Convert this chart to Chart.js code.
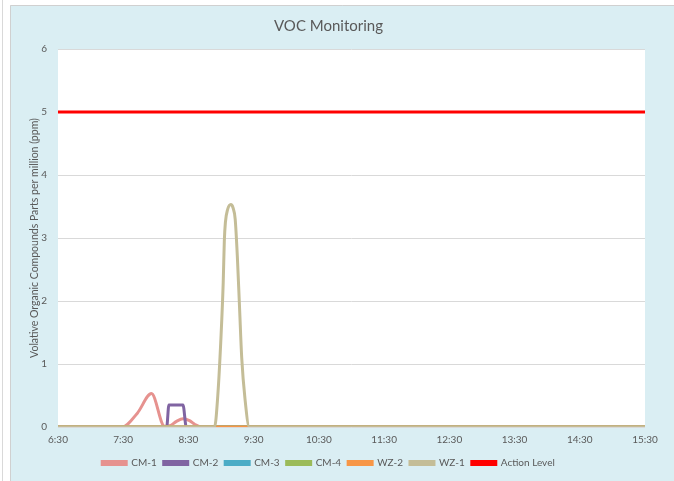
<!DOCTYPE html>
<html>
<head>
<meta charset="utf-8">
<script src="https://cdn.jsdelivr.net/npm/chart.js@4/dist/chart.umd.min.js"></script>
<style>
html,body{margin:0;padding:0;background:#fff;}
#wrap{width:674px;height:481px;}
</style>
</head>
<body>
<div id="wrap"><canvas id="c" width="674" height="481" style="width:674px;height:481px"></canvas></div>
<script>
// ---- Data (times as h:mm, values in ppm) ----
const xTickLabels = ['6:30','7:30','8:30','9:30','10:30','11:30','12:30','13:30','14:30','15:30'];
const seriesNames = ['CM-1','CM-2','CM-3','CM-4','WZ-2','WZ-1','Action Level'];

const cm1Times  = ['6:30','7:29','7:43','7:56','8:08','8:13','8:19','8:25','8:31','8:36','8:42','15:30'];
const cm1Values = [0, 0, 0.22, 0.53, 0.01, 0.02, 0.09, 0.13, 0.1, 0.04, 0, 0];

const cm2Times  = ['6:30','8:10','8:12','8:25','8:28','15:30'];
const cm2Values = [0, 0, 0.35, 0.35, 0, 0];

const cm3Times  = ['6:30','15:30'];
const cm3Values = [0, 0];

const cm4Times  = ['6:30','15:30'];
const cm4Values = [0, 0];

const wz2Times  = ['6:30','15:30'];
const wz2Values = [0, 0];

const wz1Times  = ['6:30','8:54','8:57','9:00','9:02','9:03','9:04','9:06','9:09','9:11','9:13','9:15','9:17','9:19','9:22','9:26','15:30'];
const wz1Values = [0, 0, 0.5, 1.45, 2.3, 2.95, 3.25, 3.45, 3.53, 3.48, 3.3, 2.7, 1.9, 1.1, 0.45, 0, 0];

const actionTimes  = ['6:30','15:30'];
const actionValues = [5, 5];

const yTicks = [0,1,2,3,4,5,6];

// ---- helpers ----
const START = 6*60+30;
function toMin(t){ const p=t.split(':'); return (+p[0])*60 + (+p[1]) - START; }
function fmt(m){ const tot=m+START; const h=Math.floor(tot/60); const mm=tot%60; return h+':'+String(mm).padStart(2,'0'); }
function pts(times, vals){ return times.map((t,i)=>({x:toMin(t), y:vals[i]})); }

const colors = ['#E6928F','#8064A2','#4BACC6','#9BBB59','#F79646','#C4BD97','#FF0000'];
const allTimes = [cm1Times,cm2Times,cm3Times,cm4Times,wz2Times,wz1Times,actionTimes];
const allVals = [cm1Values,cm2Values,cm3Values,cm4Values,wz2Values,wz1Values,actionValues];

const FONT = 'Lato, "Open Sans", sans-serif';

const datasets = seriesNames.map((n,i)=>({
  label: n,
  data: pts(allTimes[i], allVals[i]),
  borderColor: colors[i],
  backgroundColor: colors[i],
  borderWidth: 3,
  pointRadius: 0,
  cubicInterpolationMode: 'monotone',
  fill: false,
  order: seriesNames.length - i
}));

const bgPlugin = {
  id: 'bg',
  beforeDraw(chart){
    const ctx = chart.ctx;
    ctx.save();
    ctx.fillStyle = '#ffffff';
    ctx.fillRect(0,0,chart.width,chart.height);
    ctx.strokeStyle = '#d9d9d9';
    ctx.lineWidth = 1;
    ctx.beginPath(); ctx.moveTo(2.5,0); ctx.lineTo(2.5,chart.height); ctx.stroke();
    ctx.fillStyle = '#DAEEF3';
    ctx.fillRect(10,5,chart.width-10,chart.height-5);
    ctx.strokeStyle = '#d0d0d0';
    ctx.beginPath(); ctx.moveTo(10.5,chart.height); ctx.lineTo(10.5,5.5); ctx.lineTo(chart.width,5.5); ctx.stroke();
    const a = chart.chartArea;
    ctx.fillStyle = '#ffffff';
    ctx.fillRect(a.left, a.top, a.right-a.left, a.bottom-a.top);
    ctx.restore();
  }
};

new Chart(document.getElementById('c'), {
  type: 'line',
  data: { datasets },
  plugins: [bgPlugin],
  options: {
    responsive: false,
    devicePixelRatio: 1,
    animation: false,
    layout: { padding: { top: 6, left: 12, right: 29, bottom: 3 } },
    plugins: {
      tooltip: { enabled: false },
      title: {
        display: true, text: 'VOC Monitoring', color: '#595959',
        font: { family: FONT, size: 15, weight: 'normal' },
        padding: { top: 11, bottom: 14 }
      },
      legend: {
        position: 'bottom',
        labels: {
          color: '#595959', boxWidth: 24, boxHeight: 3, padding: 7,
          font: { family: FONT, size: 10 },
          sort: (a,b) => a.datasetIndex - b.datasetIndex
        }
      }
    },
    scales: {
      x: {
        type: 'linear', min: 0, max: 540,
        afterBuildTicks(scale){ scale.ticks = xTickLabels.map(t=>({value: toMin(t)})); },
        ticks: { color: '#595959', font: { family: FONT, size: 10 }, padding: 7, maxRotation: 0,
          callback: v => fmt(v) },
        grid: { display: false, drawTicks: false },
        border: { display: false },
        afterFit(scale){ scale.height = 24; }
      },
      y: {
        min: 0, max: 6,
        afterBuildTicks(scale){ scale.ticks = yTicks.map(v=>({value:v})); },
        ticks: { color: '#595959', font: { family: FONT, size: 10 }, padding: 11 },
        grid: { color: '#d9d9d9', drawTicks: false },
        border: { display: false },
        title: { display: true, text: 'Volative Organic Compounds Parts per million (ppm)', color: '#595959',
          font: { family: FONT, size: 10.5 }, padding: { top: 16, bottom: 0 } },
        afterFit(scale){ scale.width = 46; }
      }
    }
  }
});
</script>
</body>
</html>
